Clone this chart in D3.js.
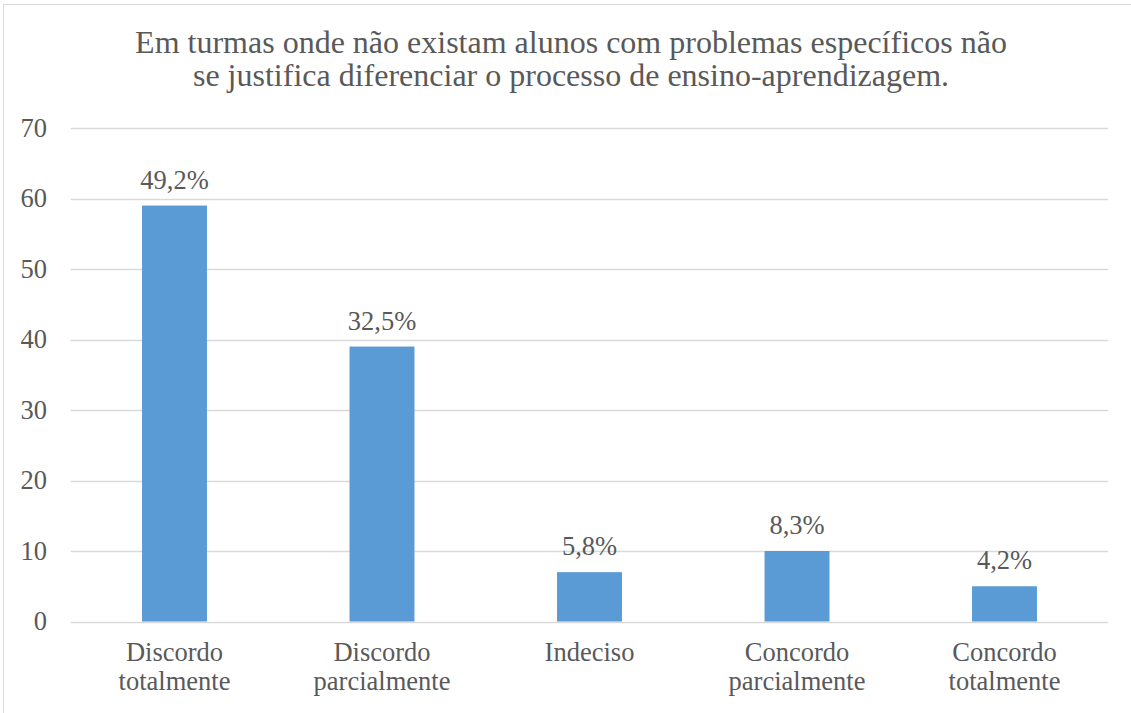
<!DOCTYPE html>
<html>
<head>
<meta charset="utf-8">
<script src="https://cdn.jsdelivr.net/npm/d3@7"></script>
</head>
<body style="margin:0">
<svg id="chart" width="1131" height="713"></svg>
<script>
// Survey answers and number of respondents per answer
const categories = [
  ["Discordo", "totalmente"],
  ["Discordo", "parcialmente"],
  ["Indeciso"],
  ["Concordo", "parcialmente"],
  ["Concordo", "totalmente"]
];
const counts = [59, 39, 7, 10, 5];
const percentLabels = ["49,2%", "32,5%", "5,8%", "8,3%", "4,2%"];
const yTicks = [0, 10, 20, 30, 40, 50, 60, 70];
const titleLines = [
  "Em turmas onde não existam alunos com problemas específicos não",
  "se justifica diferenciar o processo de ensino-aprendizagem."
];

const FONT = "Liberation Serif";
const TEXT_COLOR = "#595959";
const LABEL_SIZE = 26.5;

const svg = d3.select("#chart");
const W = 1131, H = 713;
const plot = { left: 70.75, right: 1108.25, top: 128, bottom: 621.5 };

// outer chart frame
svg.append("rect")
  .attr("x", 3.5).attr("y", 4.5)
  .attr("width", W + 10).attr("height", H + 10)
  .attr("fill", "#ffffff").attr("stroke", "#d9d9d9").attr("stroke-width", 1);

// title, two centred lines
svg.append("g").selectAll("text")
  .data(titleLines)
  .join("text")
  .attr("x", 571)
  .attr("y", (d, i) => 53 + i * 33)
  .attr("text-anchor", "middle")
  .attr("font-family", FONT)
  .attr("font-size", 32)
  .attr("fill", TEXT_COLOR)
  .text(d => d);

const x = d3.scaleBand()
  .domain(d3.range(categories.length))
  .range([plot.left, plot.right])
  .padding(0);

const y = d3.scaleLinear()
  .domain([0, 70])
  .range([plot.bottom, plot.top]);

// horizontal gridlines
svg.append("g").selectAll("line")
  .data(yTicks)
  .join("line")
  .attr("x1", plot.left).attr("x2", plot.right)
  .attr("y1", d => Math.round(y(d)) + 0.5)
  .attr("y2", d => Math.round(y(d)) + 0.5)
  .attr("stroke", "#d9d9d9").attr("stroke-width", 1.3);

// y axis labels
const yAxis = d3.axisLeft(y).tickValues(yTicks).tickSize(0).tickPadding(0);
const yg = svg.append("g")
  .attr("transform", `translate(${47},0)`)
  .call(yAxis);
yg.select(".domain").remove();
yg.attr("font-family", FONT).attr("font-size", LABEL_SIZE);
yg.selectAll("text")
  .attr("font-family", FONT)
  .attr("font-size", LABEL_SIZE)
  .attr("fill", TEXT_COLOR);

// bars
const barW = x.bandwidth() * 0.313;
svg.append("g").selectAll("rect")
  .data(counts)
  .join("rect")
  .attr("x", (d, i) => x(i) + x.bandwidth() / 2 - barW / 2)
  .attr("y", d => y(d))
  .attr("width", barW)
  .attr("height", d => y(0) - y(d))
  .attr("fill", "#5b9bd5");

// value labels
svg.append("g").selectAll("text")
  .data(counts)
  .join("text")
  .attr("x", (d, i) => x(i) + x.bandwidth() / 2)
  .attr("y", d => y(d) - 17)
  .attr("text-anchor", "middle")
  .attr("font-family", FONT)
  .attr("font-size", LABEL_SIZE)
  .attr("fill", TEXT_COLOR)
  .text((d, i) => percentLabels[i]);

// category labels
const catG = svg.append("g").selectAll("text")
  .data(categories)
  .join("text")
  .attr("x", (d, i) => x(i) + x.bandwidth() / 2)
  .attr("y", 661)
  .attr("text-anchor", "middle")
  .attr("font-family", FONT)
  .attr("font-size", LABEL_SIZE)
  .attr("fill", TEXT_COLOR);
catG.selectAll("tspan")
  .data(d => d)
  .join("tspan")
  .attr("x", function () { return d3.select(this.parentNode).attr("x"); })
  .attr("dy", (d, i) => i === 0 ? 0 : 29)
  .text(d => d);
</script>
</body>
</html>
